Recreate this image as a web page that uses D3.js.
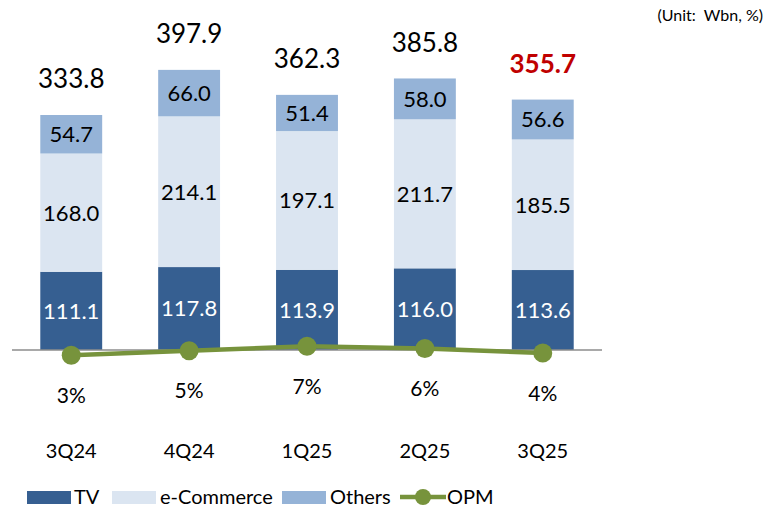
<!DOCTYPE html>
<html>
<head>
<meta charset="utf-8">
<script src="https://cdn.jsdelivr.net/npm/d3@7/dist/d3.min.js"></script>
<style>
  html, body { margin: 0; padding: 0; background: #fff; }
  svg { display: block; font-family: Lato, "Open Sans", sans-serif; }
</style>
</head>
<body>
<svg id="chart" width="766" height="510"></svg>
<script>
// Quarterly revenue by segment (Wbn) and operating profit margin (%)
const quarters = ["3Q24", "4Q24", "1Q25", "2Q25", "3Q25"];
const tv = [111.1, 117.8, 113.9, 116.0, 113.6];
const eCommerce = [168.0, 214.1, 197.1, 211.7, 185.5];
const others = [54.7, 66.0, 51.4, 58.0, 56.6];
const totals = [333.8, 397.9, 362.3, 385.8, 355.7];
const opm = [3, 5, 7, 6, 4];

const seriesKeys = ["TV", "e-Commerce", "Others"];
const seriesColors = { "TV": "#365f91", "e-Commerce": "#dbe5f1", "Others": "#95b3d7" };
const opmColor = "#77933c";

const rows = quarters.map((q, i) => ({ q, "TV": tv[i], "e-Commerce": eCommerce[i], "Others": others[i] }));

const svg = d3.select("#chart");
const baseY = 350;

const x = d3.scaleBand().domain(quarters).range([12, 602]).paddingInner(0.475).paddingOuter(0.24);
const y = d3.scaleLinear().domain([0, 400]).range([baseY, baseY - 400 * 0.704]);
const yOpm = d3.scaleLinear().domain([0, 10]).range([362, 339.5]);

const stacked = d3.stack().keys(seriesKeys)(rows);

const layers = svg.append("g").selectAll("g").data(stacked).join("g")
  .attr("fill", d => seriesColors[d.key]);

layers.selectAll("rect").data(d => d).join("rect")
  .attr("x", d => x(d.data.q))
  .attr("y", d => y(d[1]))
  .attr("width", x.bandwidth())
  .attr("height", d => y(d[0]) - y(d[1]));

// segment value labels
layers.each(function(layer) {
  d3.select(this).selectAll("text").data(layer).join("text")
    .attr("x", d => x(d.data.q) + x.bandwidth() / 2)
    .attr("y", d => (y(d[0]) + y(d[1])) / 2)
    .attr("dy", "0.36em")
    .attr("text-anchor", "middle")
    .attr("font-size", 22)
    .attr("fill", layer.key === "TV" ? "#ffffff" : "#000000")
    .text(d => (d[1] - d[0]).toFixed(1));
});

// totals
svg.append("g").selectAll("text").data(quarters).join("text")
  .attr("x", q => x(q) + x.bandwidth() / 2)
  .attr("y", (q, i) => y(tv[i] + eCommerce[i] + others[i]) - 36)
  .attr("dy", "0.36em")
  .attr("text-anchor", "middle")
  .attr("font-size", 26)
  .attr("font-weight", (q, i) => i === quarters.length - 1 ? "bold" : "normal")
  .attr("fill", (q, i) => i === quarters.length - 1 ? "#c00000" : "#000000")
  .text((q, i) => totals[i].toFixed(1));

// baseline
svg.append("line")
  .attr("x1", 12).attr("x2", 602)
  .attr("y1", baseY).attr("y2", baseY)
  .attr("stroke", "#8c8c8c").attr("stroke-width", 1.5);

// OPM line
const cx = q => x(q) + x.bandwidth() / 2;
svg.append("path")
  .datum(opm)
  .attr("fill", "none")
  .attr("stroke", opmColor)
  .attr("stroke-width", 4.5)
  .attr("d", d3.line().x((d, i) => cx(quarters[i])).y(d => yOpm(d)));

svg.append("g").selectAll("circle").data(opm).join("circle")
  .attr("cx", (d, i) => cx(quarters[i]))
  .attr("cy", d => yOpm(d))
  .attr("r", 9.5)
  .attr("fill", opmColor);

svg.append("g").selectAll("text").data(opm).join("text")
  .attr("x", (d, i) => cx(quarters[i]))
  .attr("y", d => yOpm(d) + 40)
  .attr("dy", "0.36em")
  .attr("text-anchor", "middle")
  .attr("font-size", 21)
  .text(d => d + "%");

// category axis labels
const xAxis = d3.axisBottom(x).tickSize(0).tickPadding(0);
const axisG = svg.append("g").attr("transform", "translate(0,444)").call(xAxis);
axisG.select(".domain").remove();
axisG.selectAll("text").attr("font-size", 20).attr("fill", "#000").attr("font-family", "Lato, 'Open Sans', sans-serif");

// unit note
svg.append("text")
  .attr("x", 763).attr("y", 21)
  .attr("text-anchor", "end")
  .attr("font-size", 16)
  .style("white-space", "pre")
  .text("(Unit:  Wbn, %)");

// legend
const legend = svg.append("g").attr("font-size", 20);
const legendItems = [
  { key: "TV", x: 27, tx: 74 },
  { key: "e-Commerce", x: 112, tx: 160 },
  { key: "Others", x: 282, tx: 330 }
];
legendItems.forEach(it => {
  legend.append("rect").attr("x", it.x).attr("y", 491).attr("width", 44).attr("height", 13)
    .attr("fill", seriesColors[it.key]);
  legend.append("text").attr("x", it.tx).attr("y", 497).attr("dy", "0.36em").text(it.key);
});
legend.append("line").attr("x1", 400).attr("x2", 446).attr("y1", 497).attr("y2", 497)
  .attr("stroke", opmColor).attr("stroke-width", 4.5);
legend.append("circle").attr("cx", 423).attr("cy", 497).attr("r", 8).attr("fill", opmColor);
legend.append("text").attr("x", 447).attr("y", 497).attr("dy", "0.36em").text("OPM");
</script>
</body>
</html>
